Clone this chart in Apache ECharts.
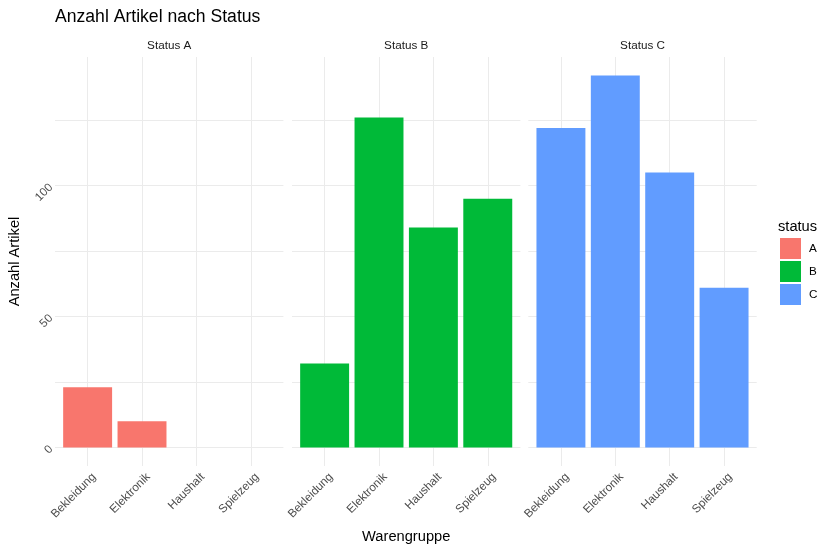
<!DOCTYPE html>
<html>
<head>
<meta charset="utf-8">
<script src="https://cdn.jsdelivr.net/npm/echarts@6/dist/echarts.min.js"></script>
<style>
html,body{margin:0;padding:0;background:#fff;}
#chart{width:834px;height:551px;}
</style>
</head>
<body>
<div id="chart"></div>
<script>
// ---- data ----
const categories = ['Bekleidung', 'Elektronik', 'Haushalt', 'Spielzeug'];
const statusA = [23, 10, null, null];
const statusB = [32, 126, 84, 95];
const statusC = [122, 142, 105, 61];
const statusNames = ['A', 'B', 'C'];
const panelTitles = ['Status A', 'Status B', 'Status C'];
const yTickValues = [0, 25, 50, 75, 100, 125];
const yLabelValues = [0, 50, 100];
const colors = ['#F8766D', '#00BA38', '#619CFF'];

// ---- layout ----
const FONT = "'Liberation Sans', Arial, sans-serif";
const panelLefts = [55, 292, 528.3];
const panelWidth = 228.4;
const panelTop = 57;
const panelHeight = 409;
const seriesData = [statusA, statusB, statusC];

const allVals = [].concat(statusA, statusB, statusC).filter(v => v != null);
const maxVal = Math.max.apply(null, allVals);
const yMin = -0.05 * maxVal;
const yMax = maxVal * 1.05;
const xMin = 0.4, xMax = categories.length + 0.6;
const bandPx = panelWidth / (xMax - xMin);

const grids = [], xAxes = [], yAxes = [], series = [], graphics = [];
for (let i = 0; i < 3; i++) {
  grids.push({left: panelLefts[i], top: panelTop, width: panelWidth, height: panelHeight, containLabel: false});
  xAxes.push({
    type: 'value', gridIndex: i, min: xMin, max: xMax,
    axisLine: {show: false},
    axisTick: {show: false, customValues: [1, 2, 3, 4]},
    splitLine: {show: true, lineStyle: {color: '#ebebeb', width: 1}},
    axisLabel: {
      customValues: [1, 2, 3, 4],
      formatter: v => categories[Math.round(v) - 1] || '',
      rotate: 45, align: 'right', verticalAlign: 'top', margin: 7,
      padding: [0, -3, 0, 0],
      color: '#4d4d4d', fontSize: 11.7, fontFamily: FONT
    },
    name: i === 1 ? 'Warengruppe' : '',
    nameLocation: 'middle', nameGap: 63,
    nameTextStyle: {color: '#000', fontSize: 14.67, fontFamily: FONT, verticalAlign: 'top'}
  });
  yAxes.push({
    type: 'value', gridIndex: i, min: yMin, max: yMax,
    axisLine: {show: false},
    axisTick: {show: false, customValues: yTickValues},
    splitLine: {show: true, lineStyle: {color: '#ebebeb', width: 1}},
    axisLabel: {
      show: i === 0,
      customValues: yLabelValues,
      rotate: 45, margin: 4,
      color: '#4d4d4d', fontSize: 11.7, fontFamily: FONT
    },
    name: i === 0 ? 'Anzahl Artikel' : '',
    nameLocation: 'middle', nameGap: 33, nameRotate: 90,
    nameTextStyle: {color: '#000', fontSize: 14.67, fontFamily: FONT}
  });
  series.push({
    name: statusNames[i], type: 'bar', xAxisIndex: i, yAxisIndex: i,
    barWidth: bandPx * 0.9,
    itemStyle: {color: colors[i]},
    data: seriesData[i].map((v, k) => [k + 1, v]),
    animation: false
  });
  graphics.push({
    type: 'text',
    style: {x: panelLefts[i] + panelWidth / 2, y: 46, text: panelTitles[i], textAlign: 'center', textVerticalAlign: 'middle',
            fill: '#1a1a1a', fontSize: 11.7, fontFamily: FONT}
  });
}
graphics.push({
  type: 'text',
  style: {x: 778, y: 227, text: 'status', textAlign: 'left', textVerticalAlign: 'middle',
          fill: '#000', fontSize: 14.67, fontFamily: FONT}
});

const chart = echarts.init(document.getElementById('chart'), null, {renderer: 'canvas'});
chart.setOption({
  backgroundColor: '#fff',
  animation: false,
  title: {
    text: 'Anzahl Artikel nach Status', left: 50, top: 3,
    textStyle: {color: '#000', fontSize: 17.6, fontWeight: 'normal', fontFamily: FONT}
  },
  legend: {
    orient: 'vertical', left: 780, top: 238, padding: 0,
    itemWidth: 21, itemHeight: 21, itemGap: 2, icon: 'rect',
    data: statusNames,
    textStyle: {color: '#000', fontSize: 11.7, fontFamily: FONT, padding: [0, 0, 0, 3]}
  },
  grid: grids, xAxis: xAxes, yAxis: yAxes, series: series, graphic: graphics
});
</script>
</body>
</html>
